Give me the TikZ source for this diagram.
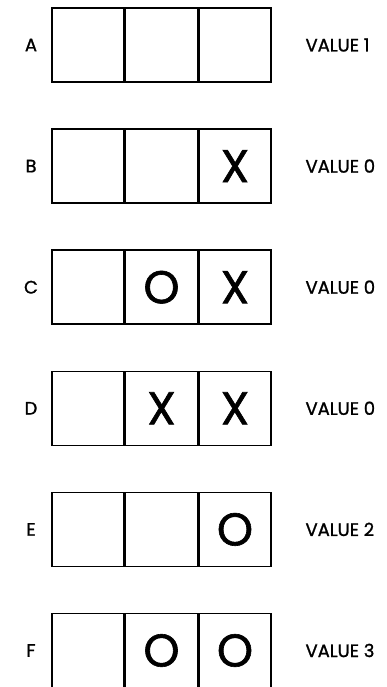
\documentclass[tikz,border=0pt]{standalone}
\usepackage{fontspec}
\setmainfont{Poppins}
\usetikzlibrary{positioning}

\tikzset{
  cell/.style={draw, line width=1.5pt, minimum width=72pt, minimum height=74pt,
               inner sep=0pt, font=\fontsize{46}{46}\selectfont\addfontfeatures{FakeBold=1.3}},
  rowlabel/.style={font=\fontsize{18}{18}\selectfont\addfontfeatures{FakeBold=1.2}},
  valuelabel/.style={anchor=west, font=\fontsize{18}{18}\selectfont\addfontfeatures{FakeBold=1.2}}
}

\begin{document}
\begin{tikzpicture}[x=1pt,y=-1pt]
  \useasboundingbox (0,0) rectangle (386,687);
  % one row per position: label, three cells, value
  \foreach \lab/\a/\b/\c/\v [count=\r from 0] in
      {A/{}/{}/{}/1, B/{}/{}/X/0, C/{}/O/X/0, D/{}/X/X/0, E/{}/{}/O/2, F/{}/O/O/3} {
    \node[cell] (\lab1) at (88, 45+121.1*\r) {\a};
    \node[cell, right=0pt of \lab1] (\lab2) {\b};
    \node[cell, right=0pt of \lab2] (\lab3) {\c};
    \node[rowlabel] (\lab) at (31, 45+121.1*\r) {\lab};
    \node[valuelabel] (\lab v) at (302, 45+121.1*\r) {VALUE \v};
  }
\end{tikzpicture}
\end{document}
